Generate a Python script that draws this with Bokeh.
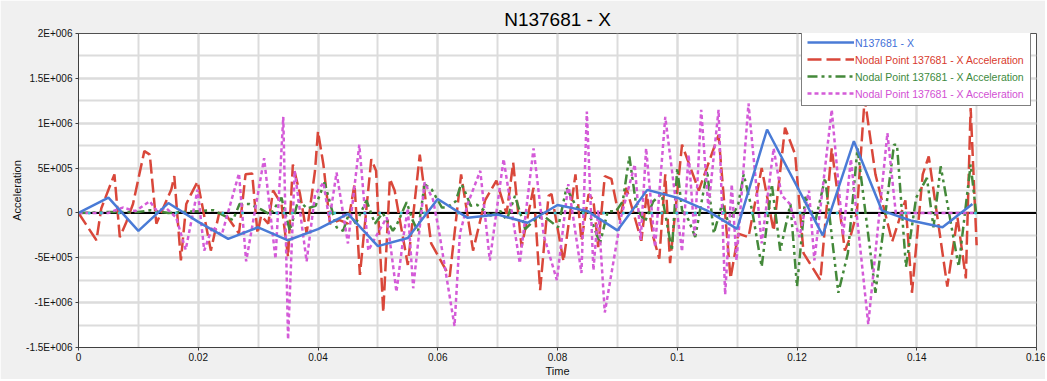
from bokeh.plotting import figure
from bokeh.models import Range1d, FixedTicker, Span, Legend, LegendItem
from bokeh.embed import file_html
from bokeh.resources import INLINE

# ---------------- data ----------------
title_text = "N137681 - X"
x_label = "Time"
y_label = "Acceleration"
series_names = ["N137681 - X",
                "Nodal Point 137681 - X Acceleration",
                "Nodal Point 137681 - X Acceleration",
                "Nodal Point 137681 - X Acceleration"]

x_tick_labels = ["0", "0.02", "0.04", "0.06", "0.08", "0.1", "0.12", "0.14", "0.16"]
x_minor_ticks = [i / 100 for i in range(17)]
y_tick_values = [-1500000, -1000000, -500000, 0, 500000, 1000000, 1500000, 2000000]
y_tick_labels = ["-1.5E+006", "-1E+006", "-5E+005", "0", "5E+005", "1E+006", "1.5E+006", "2E+006"]
y_minor_ticks = [-1500000 + 250000 * i for i in range(15)]

blue_t = [0, 0.005, 0.01, 0.015, 0.02, 0.025, 0.03, 0.035, 0.04, 0.045, 0.05, 0.055,
          0.06, 0.065, 0.07, 0.075, 0.08, 0.085, 0.09, 0.095, 0.1, 0.105, 0.11, 0.115,
          0.1243, 0.1295, 0.1342, 0.139, 0.1443, 0.1493]
blue_v = [0, 1.7e5, -2.0e5, 1.1e5, -1.0e5, -2.9e5, -1.6e5, -3.05e5, -1.8e5, -1e4, -3.7e5, -2.8e5,
          1.55e5, -5.5e4, -1.8e4, -1.1e5, 8.8e4, 2e4, -1.95e5, 2.57e5, 1.7e5, 2.5e4, -1.77e5, 9.3e5,
          -2.5e5, 8.0e5, 2.5e4, -8.5e4, -1.6e5, 1.0e5]

red_t = [0, 0.0030, 0.0038, 0.0060, 0.0069, 0.0080, 0.0091, 0.0110, 0.0119, 0.0130, 0.0155,
         0.0160, 0.0171, 0.0180, 0.0188, 0.0199, 0.0221, 0.0235, 0.0244, 0.0268, 0.0279, 0.0290,
         0.0299, 0.0305, 0.0317, 0.0325, 0.0339, 0.0350, 0.0358, 0.0370, 0.0381, 0.0395, 0.0400,
         0.0409, 0.0420, 0.0436, 0.0450, 0.0461, 0.0470, 0.0489, 0.0497, 0.0509, 0.0520, 0.0528,
         0.0550, 0.0570, 0.0589, 0.0620, 0.0639, 0.0659, 0.0679, 0.0698, 0.0715, 0.0726, 0.0740,
         0.0760, 0.0771, 0.0785, 0.0790, 0.0810, 0.0830, 0.0840, 0.0852, 0.0860, 0.0868, 0.0879,
         0.0890, 0.0904, 0.0915, 0.0940, 0.0949, 0.0960, 0.0970, 0.0980, 0.0988, 0.1008, 0.1036,
         0.1069, 0.1089, 0.1102, 0.1119, 0.1141, 0.1161, 0.1180, 0.1197, 0.1211, 0.1239, 0.1258,
         0.1280, 0.1289, 0.1300, 0.1313, 0.1331, 0.1359, 0.1381, 0.1392, 0.1410, 0.1420, 0.1451,
         0.1468, 0.1482, 0.1490, 0.1500]
red_v = [0, -3.05e5, 5e4, 4.3e5, -2.7e5, -1.0e5, 1.0e5, 6.9e5, 6.5e5, -1.2e5, 2.6e5,
         4.1e5, -5.3e5, 1.0e5, 2.1e5, 3.5e5, -4.2e5, 0, 0, -2.3e5, 4.3e5, 4.4e5,
         -2.3e5, -3e4, -1.2e5, 2.5e5, 1.0e5, -4.9e5, 5.4e5, 2.1e5, -2.3e5, 4.7e5, 9.1e5,
         5.4e5, -1.2e5, -8e4, -1.2e5, 3.2e5, -6.9e5, 6.0e5, 4.7e5, -1.11e6, 3.8e5, 2.5e5,
         -5.8e5, 6.5e5, -3.4e5, -7.1e5, 4.3e5, -4.2e5, 1.4e5, 3.6e5, -1e4, 5.6e5, -3.8e5,
         2.8e5, -8.6e5, 1.9e5, 2.1e5, -5.4e5, 4.3e5, -3.1e5, 2.1e5, 1.4e5, -3.8e5, 4.1e5,
         3.8e5, -8e4, 2.8e5, -3.1e5, 2.1e5, -2.7e5, -5.1e5, 4.3e5, -5.6e5, 7.6e5, 2.5e5,
         8.7e5, -7.3e5, -2.3e5, -2.7e5, 5.0e5, -2.0e5, 9.5e5, 6.5e5, -4.5e5, -7.5e5, 7.2e5,
         -4.2e5, -2.7e5, 0, 1.28e6, 4.3e5, -3.2e5, 1.4e5, -8.9e5, 4.3e5, 6.3e5, -8.2e5,
         -5e4, -7.3e5, 1.17e6, -3.6e5]

green_t = [0, 0.005, 0.010, 0.012, 0.015, 0.020, 0.0225, 0.0258, 0.0269, 0.0285, 0.0305,
           0.0320, 0.0339, 0.0353, 0.0367, 0.0382, 0.0396, 0.0411, 0.0431, 0.0442, 0.0452,
           0.0463, 0.0481, 0.0495, 0.0508, 0.0525, 0.0531, 0.0548, 0.0558, 0.0567, 0.0578,
           0.0590, 0.0607, 0.0615, 0.0630, 0.0639, 0.0643, 0.0655, 0.0666, 0.0688, 0.0705,
           0.0715, 0.0729, 0.0746, 0.0766, 0.0780, 0.0801, 0.0815, 0.0829, 0.0837, 0.0851,
           0.0871, 0.0884, 0.0898, 0.0909, 0.0920, 0.0932, 0.0946, 0.0960, 0.0974, 0.0991,
           0.1000, 0.1008, 0.1019, 0.1030, 0.1050, 0.1061, 0.1075, 0.1086, 0.1102, 0.1111,
           0.1125, 0.1141, 0.1158, 0.1172, 0.1189, 0.1200, 0.1214, 0.1231, 0.1247, 0.1269,
           0.1285, 0.1301, 0.1331, 0.1362, 0.1367, 0.1382, 0.1399, 0.1417, 0.1428, 0.1440,
           0.1470, 0.1490, 0.1500]
green_v = [0, 1e4, 1e4, 3e4, 0, 2e4, 3e4, -8e4, 1.0e5, 1.0e5, 4e4,
           -2e4, 1.7e5, -2.0e5, 1.4e5, 5e4, 8e4, 3.4e5, -1.6e5, -2.0e5, 0,
           -1.2e5, 1.4e5, -1.2e5, 0, -2.0e5, -1.4e5, 1.2e5, -8e4, -2.1e5, 3.2e5,
           2.6e5, 6e4, 6e4, 1.3e5, 3.2e5, 2.8e5, 8e4, 9e4, -3e4, 2e4,
           -8e4, 1.9e5, -1.8e5, -5e4, -5e4, -1.6e5, 2.8e5, 1.0e5, 2e4, 2e4,
           -3.4e5, 2e4, 2e4, 1.3e5, 6.3e5, 6e4, -1.0e5, 1.3e5, 2.1e5, -4.2e5,
           5.0e5, 3e4, -8e4, -2.7e5, 4.7e5, -2.3e5, 1.0e5, -1.2e5, 1.0e5, 4.3e5,
           3e4, -6.0e5, 3.2e5, -4.2e5, 1.0e5, -8.2e5, 1.8e5, -8e4, 3.9e5, -8.9e5,
           -4.5e5, 7.2e5, -8.9e5, 7.6e5, 7.6e5, -6.0e5, 1.7e5, 3.9e5, -1.6e5, 5.2e5,
           -6.0e5, 5.4e5, -5e4]

magenta_t = [0, 0.0050, 0.0074, 0.0095, 0.0119, 0.0130, 0.0147, 0.0163, 0.0179, 0.0199,
             0.0210, 0.0224, 0.0239, 0.0268, 0.0280, 0.0310, 0.0329, 0.0342, 0.0350, 0.0361,
             0.0381, 0.0395, 0.0409, 0.0419, 0.0431, 0.0450, 0.0469, 0.0484, 0.0502, 0.0515,
             0.0531, 0.0543, 0.0550, 0.0559, 0.0578, 0.0592, 0.0602, 0.0628, 0.0637, 0.0650,
             0.0671, 0.0687, 0.0710, 0.0737, 0.0760, 0.0777, 0.0799, 0.0818, 0.0840, 0.0849,
             0.0860, 0.0868, 0.0879, 0.0906, 0.0929, 0.0939, 0.0948, 0.0963, 0.0980, 0.1008,
             0.1019, 0.1029, 0.1040, 0.1052, 0.1069, 0.1080, 0.1091, 0.1099, 0.1119, 0.1141,
             0.1161, 0.1174, 0.1188, 0.1204, 0.1220, 0.1229, 0.1258, 0.1277, 0.1290, 0.1319,
             0.1351, 0.1365, 0.1500]
magenta_v = [0, 0, 6e4, 2e4, 1.3e5, 3e4, 5e4, -5e4, -4.1e5, 2.6e5,
             -4.2e5, -1.5e5, -2.5e5, 4.4e5, -5.4e5, 6.1e5, -5.1e5, 1.07e6, -1.41e6, 4.7e5,
             -5.4e5, 2.0e5, 3.4e5, -8e4, 4.5e5, -3.4e5, 7.6e5, -4.2e5, -2.0e5, -5e4,
             -8.8e5, -2.5e5, 5e4, -8.4e5, 3.4e5, 1.5e5, -2.0e5, -1.26e6, -2.3e5, 1.0e5,
             4.7e5, -5.3e5, 6.0e5, -5.6e5, 7.2e5, -2.5e5, -7.5e5, 3.2e5, -6.7e5, 1.13e6,
             -6.4e5, 3e4, -1.11e6, -5e4, 5.4e5, -3.0e5, 7.2e5, -3.8e5, 1.07e6, -4.3e5,
             6.5e5, -2.5e5, 1.15e6, 5e4, 1.15e6, -9.1e5, 3.2e5, -5.3e5, 1.22e6, -3.4e5,
             7.2e5, 2.0e5, 1.0e5, -2.7e5, 2.5e5, -5.3e5, 1.15e6, -2.5e5, 6.0e5, -1.24e6,
             8.9e5, 0, 0]

zero_marker_t = [0.0018, 0.0038, 0.0068, 0.0130, 0.0163, 0.0177, 0.0241, 0.0274, 0.0331,
                 0.0343, 0.0357, 0.0420, 0.0428, 0.0478, 0.0503, 0.0539, 0.0578, 0.0634,
                 0.0737, 0.0748, 0.0796, 0.0843, 0.0877, 0.0910, 0.0957, 0.0974, 0.0999,
                 0.1016, 0.1030, 0.1077, 0.1125, 0.1150, 0.1205, 0.1253, 0.1267, 0.1301,
                 0.1351, 0.1381, 0.1498]
zero_marker_v = [0] * len(zero_marker_t)

colors = ["#4a7bd6", "#d9473a", "#44893a", "#d45bd8"]
text_colors = ["#3f6fd8", "#d83a2c", "#3d8a3d", "#d24fd4"]
dashes = ["solid", "14 5", "10 4 3 4 3 4", "4 3"]

FONT = "Liberation Sans"

# ---------------- figure ----------------
p = figure(width=1045, height=379, output_backend="svg", toolbar_location=None,
           x_range=Range1d(0, 0.16), y_range=Range1d(-1500000, 2000000),
           min_border_left=78, min_border_right=9, min_border_top=33, min_border_bottom=29,
           background_fill_color="white", border_fill_color="#f0f0f0",
           outline_line_color="#505050", outline_line_width=1)

p.title.text = title_text
p.title.align = "center"
p.title.text_font = FONT
p.title.text_font_size = "19px"
p.title.text_font_style = "normal"
p.title.text_color = "black"
p.title.standoff = 8

x_ticks = [float(s) for s in x_tick_labels]
p.xaxis.ticker = FixedTicker(ticks=x_ticks, minor_ticks=x_minor_ticks)
p.xaxis.major_label_overrides = {v: s for v, s in zip(x_ticks, x_tick_labels)}
p.yaxis.ticker = FixedTicker(ticks=y_tick_values, minor_ticks=y_minor_ticks)
p.yaxis.major_label_overrides = {v: s for v, s in zip(y_tick_values, y_tick_labels)}

for ax in (p.xaxis[0], p.yaxis[0]):
    ax.major_label_text_font = FONT
    ax.major_label_text_font_size = "10px"
    ax.major_label_text_color = "#111111"
    ax.axis_label_text_font = FONT
    ax.axis_label_text_font_size = "11px"
    ax.axis_label_text_font_style = "normal"
    ax.axis_label_text_color = "#111111"
    ax.axis_line_color = "#404040"
    ax.major_tick_line_color = "#404040"
    ax.major_tick_in = 0
    ax.major_tick_out = 3
    ax.minor_tick_line_color = None
    ax.major_label_standoff = 2
    ax.axis_label_standoff = 0

p.xaxis.axis_label = x_label
p.yaxis.axis_label = y_label
p.xaxis.major_label_standoff = 1
p.xaxis.axis_label_standoff = 1

for g in (p.xgrid[0], p.ygrid[0]):
    g.grid_line_color = "#dcdcdc"
    g.grid_line_width = 2
    g.minor_grid_line_color = "#dcdcdc"
    g.minor_grid_line_width = 2

p.add_layout(Span(location=0, dimension="width", line_color="black", line_width=2, level="underlay"))

r_red = p.line(red_t, red_v, line_color=colors[1], line_width=2.5, line_dash=dashes[1])
r_green = p.line(green_t, green_v, line_color=colors[2], line_width=2.5, line_dash=dashes[2])
r_mag = p.line(magenta_t, magenta_v, line_color=colors[3], line_width=2.5, line_dash=dashes[3])
p.scatter(zero_marker_t, zero_marker_v, size=3, color="#3cc3d2", line_color=None)
r_blue = p.line(blue_t, blue_v, line_color=colors[0], line_width=2.5)

renderers = [r_blue, r_red, r_green, r_mag]

legend_common = dict(spacing=3, label_height=14, glyph_height=14, glyph_width=47,
                     label_standoff=2, label_text_font=FONT, label_text_font_size="10.5px",
                     margin=0)

box = Legend(items=[LegendItem(label=n, renderers=[r]) for n, r in zip(series_names, renderers)],
             location=(723, 241), padding=5, label_text_alpha=0,
             background_fill_color="white", background_fill_alpha=1,
             border_line_color="black", border_line_width=1.5, **legend_common)
p.add_layout(box)

for i, (n, c) in enumerate(zip(series_names, text_colors)):
    dummy = p.line(x=[], y=[], line_alpha=0)
    lg = Legend(items=[LegendItem(label=n, renderers=[dummy])],
                location=(728, 297 - 17 * i), padding=0,
                label_text_color=c, background_fill_alpha=0, border_line_alpha=0,
                **legend_common)
    p.add_layout(lg)

open("out.html", "w").write(file_html(p, INLINE))
